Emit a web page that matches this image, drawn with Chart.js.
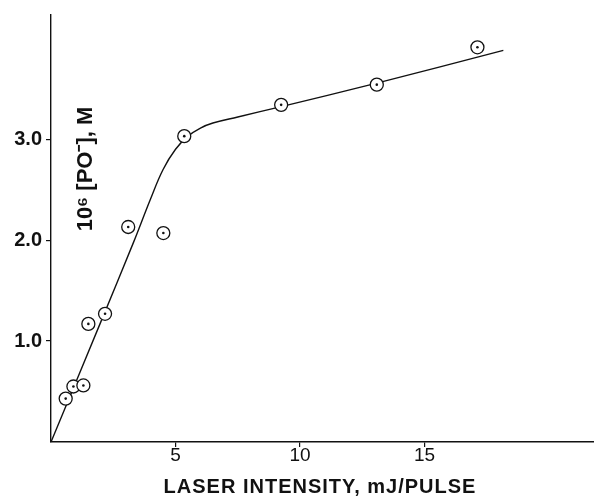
<!DOCTYPE html>
<html>
<head>
<meta charset="utf-8">
<script src="https://cdn.jsdelivr.net/npm/chart.js@4"></script>
<style>
html,body{margin:0;padding:0;background:#fff;}
#wrap{width:594px;height:498px;position:relative;}
</style>
</head>
<body>
<div id="wrap"><canvas id="c" width="594" height="498"></canvas></div>
<script>
// Measured points
const pointX = [0.59, 0.90, 1.30, 1.50, 2.17, 3.10, 4.51, 5.35, 9.24, 13.08, 17.12];
const pointY = [0.43, 0.55, 0.56, 1.17, 1.27, 2.13, 2.07, 3.03, 3.34, 3.54, 3.91];
// Hand-drawn fit curve
const curveX = [0, 2.0, 3.3, 4.0, 4.5, 5.0, 5.5, 6.0, 6.5, 7.5, 9.2, 13.0, 18.16];
const curveY = [0, 1.19, 1.97, 2.41, 2.70, 2.90, 3.03, 3.11, 3.16, 3.22, 3.32, 3.55, 3.88];
const xTicks = [5, 10, 15];
const yTicks = [1.0, 2.0, 3.0];
const xTitle = 'LASER INTENSITY, mJ/PULSE';
const yTitle = '10\u2076 [PO\u207B], M';

const pts = pointX.map((x, i) => ({x, y: pointY[i]}));
const crv = curveX.map((x, i) => ({x, y: curveY[i]}));

const titles = {
  id: 'titles',
  afterDraw(chart) {
    const ctx = chart.ctx;
    ctx.save();
    ctx.fillStyle = '#111';
    ctx.font = 'bold 20px "Liberation Sans", Arial, sans-serif';
    ctx.letterSpacing = '1px';
    ctx.textAlign = 'center';
    ctx.textBaseline = 'middle';
    ctx.fillText(xTitle, 320, 487);
    ctx.restore();
    ctx.save();
    ctx.fillStyle = '#111';
    ctx.translate(86, 169);
    ctx.rotate(-Math.PI / 2);
    ctx.font = 'bold 22px "Liberation Sans", Arial, sans-serif';
    ctx.textAlign = 'center';
    ctx.textBaseline = 'middle';
    ctx.fillText(yTitle, 0, 0);
    ctx.restore();
  }
};

new Chart(document.getElementById('c'), {
  type: 'scatter',
  data: {
    datasets: [
      {
        type: 'line', data: crv, borderColor: '#111', borderWidth: 1.4,
        pointRadius: 0, tension: 0.4, fill: false, order: 3
      },
      {
        data: pts, pointRadius: 6.5, pointBorderWidth: 1.3,
        pointBackgroundColor: '#fff', pointBorderColor: '#111', order: 2
      },
      {
        data: pts, pointRadius: 1.3, pointBorderWidth: 0,
        pointBackgroundColor: '#111', order: 1
      }
    ]
  },
  options: {
    responsive: false,
    animation: false,
    layout: {autoPadding: false, padding: {top: 15, right: 0, left: 0, bottom: 0}},
    plugins: {legend: {display: false}, tooltip: {enabled: false}},
    scales: {
      x: {
        type: 'linear', min: 0, max: 21.8,
        afterBuildTicks: s => { s.ticks = xTicks.map(v => ({value: v})); },
        afterFit: s => { s.height = 56; s.paddingRight = 0; s.paddingLeft = 0; },
        border: {display: true, color: '#111', width: 1.4},
        grid: {display: true, drawOnChartArea: false, drawTicks: true, tickLength: 5, color: '#111', lineWidth: 1.2},
        ticks: {color: '#111', font: {family: '"Liberation Sans", Arial, sans-serif', size: 19}, padding: -3, maxRotation: 0,
                callback: v => String(v)}
      },
      y: {
        type: 'linear', min: 0, max: 4.23,
        afterBuildTicks: s => { s.ticks = yTicks.map(v => ({value: v})); },
        afterFit: s => { s.width = 51; s.paddingTop = 0; s.paddingBottom = 0; },
        border: {display: true, color: '#111', width: 1.4},
        grid: {display: true, drawOnChartArea: false, drawTicks: true, tickLength: 5, color: '#111', lineWidth: 1.2},
        ticks: {color: '#111', font: {family: '"Liberation Sans", Arial, sans-serif', size: 20, weight: 'bold'}, padding: 4,
                callback: v => v.toFixed(1)}
      }
    }
  },
  plugins: [titles]
});
</script>
</body>
</html>
